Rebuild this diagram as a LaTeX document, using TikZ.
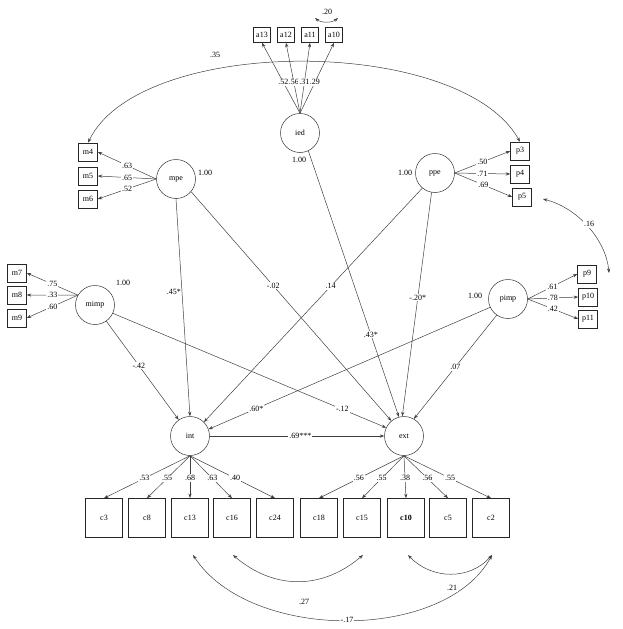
\documentclass[tikz,border=0pt]{standalone}
\usepackage{fontspec}
\setmainfont{Liberation Serif}
\usetikzlibrary{arrows.meta}
\begin{document}
\begin{tikzpicture}[x=1pt,y=-1pt,
  every node/.style={font=\fontsize{8}{9.5}\selectfont},
  lat/.style={circle,draw=black!80,line width=0.5pt,minimum size=39pt,inner sep=0pt},
  indm/.style={rectangle,draw=black!85,line width=0.55pt,minimum width=19pt,minimum height=18pt,inner sep=0pt},
  inda/.style={rectangle,draw=black!85,line width=0.55pt,minimum width=17pt,minimum height=15pt,inner sep=0pt},
  indc/.style={rectangle,draw=black!85,line width=0.55pt,minimum width=37pt,minimum height=39pt,inner sep=0pt},
  lbl/.style={fill=white,inner sep=1pt},
  plain/.style={inner sep=1pt},
  arr/.style={draw=black!75,line width=0.5pt,-{Stealth[length=4.5pt,width=3.2pt]}},
  dbl/.style={draw=black!75,line width=0.5pt,{Stealth[length=4.5pt,width=3.2pt]}-{Stealth[length=4.5pt,width=3.2pt]}}
]
\useasboundingbox (0,0) rectangle (623,629);

% latent variables
\node[lat] (ied) at (300,133) {ied};
\node[lat] (mpe) at (176,179) {mpe};
\node[lat] (ppe) at (435,173) {ppe};
\node[lat] (mimp) at (95,305) {mimp};
\node[lat] (pimp) at (508,299) {pimp};
\node[lat] (int) at (190,436) {int};
\node[lat] (ext) at (404,436) {ext};

% indicators
\node[inda] (a13) at (262,35) {a13};
\node[inda] (a12) at (286,35) {a12};
\node[inda] (a11) at (310,35) {a11};
\node[inda] (a10) at (334,35) {a10};
\node[indm] (m4) at (88,152) {m4};
\node[indm] (m5) at (88,176) {m5};
\node[indm] (m6) at (88,199) {m6};
\node[indm] (p3) at (520,151) {p3};
\node[indm] (p4) at (520,174) {p4};
\node[indm] (p5) at (522,197) {p5};
\node[indm] (m7) at (17,273) {m7};
\node[indm] (m8) at (17,295) {m8};
\node[indm] (m9) at (17,318) {m9};
\node[indm] (p9) at (587,274) {p9};
\node[indm] (p10) at (588,297) {p10};
\node[indm] (p11) at (588,319) {p11};
\node[indc] (c3) at (104,518) {c3};
\node[indc] (c8) at (147,518) {c8};
\node[indc,line width=0.9pt] (c13) at (190,518) {c13};
\node[indc] (c16) at (232,518) {c16};
\node[indc] (c24) at (275,518) {c24};
\node[indc] (c18) at (319,518) {c18};
\node[indc] (c15) at (362,518) {c15};
\node[indc] (c10) at (406,518) {\textbf{c10}};
\node[indc] (c5) at (448,518) {c5};
\node[indc] (c2) at (491,518) {c2};

% ied loadings
\draw[arr] (ied.north) -- node[lbl,pos=0.44]{.52} (a13.south);
\draw[arr] (ied.north) -- node[lbl,pos=0.44]{.56} (a12.south);
\draw[arr] (ied.north) -- node[lbl,pos=0.44]{.31} (a11.south);
\draw[arr] (ied.north) -- node[lbl,pos=0.44]{.29} (a10.south);
% mpe loadings
\draw[arr] (mpe.west) -- node[lbl,pos=0.5]{.63} (m4.east);
\draw[arr] (mpe.west) -- node[lbl,pos=0.5]{.65} (m5.east);
\draw[arr] (mpe.west) -- node[lbl,pos=0.5]{.52} (m6.east);
% ppe loadings
\draw[arr] (ppe.east) -- node[lbl,pos=0.5]{.50} (p3.west);
\draw[arr] (ppe.east) -- node[lbl,pos=0.5]{.71} (p4.west);
\draw[arr] (ppe.east) -- node[lbl,pos=0.5]{.69} (p5.west);
% mimp loadings
\draw[arr] (mimp.150) -- node[lbl,pos=0.5]{.75} (m7.east);
\draw[arr] (mimp.150) -- node[lbl,pos=0.5]{.33} (m8.east);
\draw[arr] (mimp.150) -- node[lbl,pos=0.5]{.60} (m9.east);
% pimp loadings
\draw[arr] (pimp.east) -- node[lbl,pos=0.5]{.61} (p9.west);
\draw[arr] (pimp.east) -- node[lbl,pos=0.5]{.78} (p10.west);
\draw[arr] (pimp.east) -- node[lbl,pos=0.5]{.42} (p11.west);
% int loadings
\draw[arr] (int.south) -- node[lbl,pos=0.53]{.53} (c3.north);
\draw[arr] (int.south) -- node[lbl,pos=0.53]{.55} (c8.north);
\draw[arr] (int.south) -- node[lbl,pos=0.53]{.68} (c13.north);
\draw[arr] (int.south) -- node[lbl,pos=0.53]{.63} (c16.north);
\draw[arr] (int.south) -- node[lbl,pos=0.53]{.40} (c24.north);
% ext loadings
\draw[arr] (ext.south) -- node[lbl,pos=0.53]{.56} (c18.north);
\draw[arr] (ext.south) -- node[lbl,pos=0.53]{.55} (c15.north);
\draw[arr] (ext.south) -- node[lbl,pos=0.53]{.38} (c10.north);
\draw[arr] (ext.south) -- node[lbl,pos=0.53]{.56} (c5.north);
\draw[arr] (ext.south) -- node[lbl,pos=0.53]{.55} (c2.north);

% structural paths
\draw[arr] (mpe.south) -- node[plain,pos=0.43,anchor=east]{.45*} (int.north);
\draw[arr] (mpe.-40) -- node[lbl,pos=0.41]{-.02} (ext.130);
\draw[arr] (ppe.-130) -- node[lbl,pos=0.42]{.14} (int.45);
\draw[arr] (ppe.-100) -- node[lbl,pos=0.47]{-.20*} (ext.95);
\draw[arr] (ied.-65) -- node[lbl,pos=0.69]{.43*} (ext.105);
\draw[arr] (mimp.-55) -- node[lbl,pos=0.45]{-.42} (int.125);
\draw[arr] (mimp.-25) -- node[lbl,pos=0.84]{-.12} (ext.155);
\draw[arr] (pimp.-155) -- node[lbl,pos=0.83]{.60*} (int.20);
\draw[arr] (pimp.-125) -- node[lbl,pos=0.5]{.07} (ext.60);
\draw[arr] (int.east) -- node[lbl,pos=0.52]{.69***} (ext.west);

% 1.00 labels
\node[plain] (vied) at (299,160) {1.00};
\node[plain] (vmpe) at (205,173) {1.00};
\node[plain] (vppe) at (405,173) {1.00};
\node[plain] (vmimp) at (123,283) {1.00};
\node[plain] (vpimp) at (475,296) {1.00};

% covariances
\draw[dbl] (m4.north) .. controls (140,35) and (460,35) .. (p3.north);
\node[plain] (l35) at (215,55) {.35};

\coordinate (a11e) at (315,18);
\coordinate (a10e) at (338,18);
\draw[dbl] (a11e) .. controls (321,23) and (332,23) .. (a10e);
\node[plain] (l20) at (327,12) {.20};

\coordinate (p5e) at (543,199);
\coordinate (p9e) at (609,273);
\draw[dbl] (p5e) .. controls (578,208) and (606,240) .. (p9e);
\node[lbl] (l16) at (589,224) {.16};

\coordinate (c13e) at (193,555);
\coordinate (c16e) at (233,555);
\coordinate (c15e) at (363,555);
\coordinate (c10e) at (408,555);
\coordinate (c2e) at (492,555);
\draw[dbl] (c16e) .. controls (274,590) and (322,590) .. (c15e);
\node[plain] (l27) at (304,602) {.27};
\draw[dbl] (c13e) .. controls (250,642) and (445,642) .. (c2e);
\node[lbl] (l17) at (347,620) {-.17};
\draw[dbl] (c10e) .. controls (432,580) and (470,580) .. (c2e);
\node[lbl] (l21) at (452,588) {.21};
\end{tikzpicture}
\end{document}
